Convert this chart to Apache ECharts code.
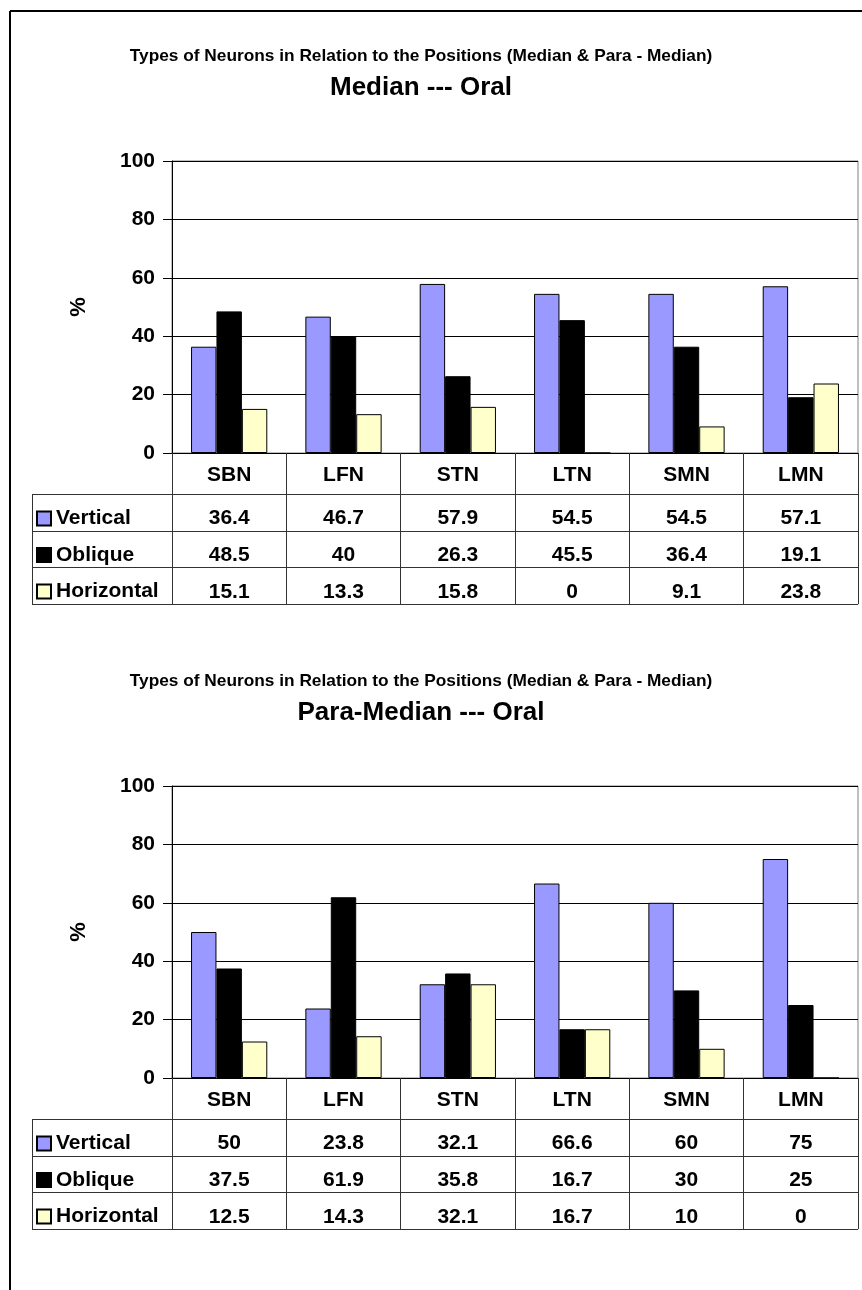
<!DOCTYPE html>
<html>
<head>
<meta charset="utf-8">
<title>Types of Neurons in Relation to the Positions</title>
<script src="https://cdn.jsdelivr.net/npm/echarts@6/dist/echarts.min.js"></script>
<style>
  html, body { margin: 0; padding: 0; background: #fff; }
  #chart { width: 862px; height: 1290px; }
</style>
</head>
<body>
<div id="chart"></div>
<script>
// Neuron categories along the x axis
const categories = ['SBN', 'LFN', 'STN', 'LTN', 'SMN', 'LMN'];
const seriesNames = ['Vertical', 'Oblique', 'Horizontal'];

// Median --- Oral (%)
const medianVertical   = [36.4, 46.7, 57.9, 54.5, 54.5, 57.1];
const medianOblique    = [48.5, 40, 26.3, 45.5, 36.4, 19.1];
const medianHorizontal = [15.1, 13.3, 15.8, 0, 9.1, 23.8];

// Para-Median --- Oral (%)
const paraVertical   = [50, 23.8, 32.1, 66.6, 60, 75];
const paraOblique    = [37.5, 61.9, 35.8, 16.7, 30, 25];
const paraHorizontal = [12.5, 14.3, 32.1, 16.7, 10, 0];

// Value axis range
const yMin = 0, yMax = 100, yStep = 20;

const mainTitle = 'Types of Neurons in Relation to the Positions (Median & Para - Median)';
const panelTitles = ['Median --- Oral', 'Para-Median --- Oral'];
const panelValues = [
  [medianVertical, medianOblique, medianHorizontal],
  [paraVertical, paraOblique, paraHorizontal]
];

const seriesColors = ['#9999FF', '#000000', '#FFFFCC'];
const FONT = "'Liberation Sans', Arial, Helvetica, sans-serif";

// layout of one panel (second panel is shifted down)
const PANEL_SHIFT = 625;
const PLOT_LEFT = 172, PLOT_WIDTH = 686, PLOT_TOP = 161, PLOT_HEIGHT = 292;
const HEADER_H = 41, ROW_H = 36.7;
const TABLE_LEFT = 32;
const TITLE_X = 421;

const option = {
  animation: false,
  backgroundColor: '#ffffff',
  grid: [], xAxis: [], yAxis: [], series: [], legend: [], graphic: []
};

// outer frame (left and top edges)
option.graphic.push(
  { type: 'line', silent: true, shape: { x1: 10, y1: 11, x2: 10, y2: 1290 }, style: { stroke: '#000', lineWidth: 2 } },
  { type: 'line', silent: true, shape: { x1: 10, y1: 11, x2: 862, y2: 11 }, style: { stroke: '#000', lineWidth: 2 } }
);

function textStyle(size) {
  return { fontSize: size, fontWeight: 'bold', color: '#000', fontFamily: FONT };
}

panelValues.forEach((values, k) => {
  const dy = k * PANEL_SHIFT;
  const plotBottom = PLOT_TOP + dy + PLOT_HEIGHT;
  const tableBottom = plotBottom + HEADER_H + ROW_H * 3;

  // titles
  option.graphic.push(
    { type: 'text', silent: true, x: TITLE_X, y: 56 + dy,
      style: { text: mainTitle, font: 'bold 17.3px ' + FONT, fill: '#000',
               align: 'center', verticalAlign: 'middle', textAlign: 'center', textVerticalAlign: 'middle' } },
    { type: 'text', silent: true, x: TITLE_X, y: 88 + dy,
      style: { text: panelTitles[k], font: 'bold 26px ' + FONT, fill: '#000',
               align: 'center', verticalAlign: 'middle', textAlign: 'center', textVerticalAlign: 'middle' } }
  );

  option.grid.push({
    left: PLOT_LEFT, top: PLOT_TOP + dy, width: PLOT_WIDTH, height: PLOT_HEIGHT,
    show: true, borderColor: '#808080', borderWidth: 1
  });

  const axisBase = option.xAxis.length;
  // category axis: header row of the data table; ticks run down as column rules
  option.xAxis.push({
    gridIndex: k, type: 'category', data: categories, position: 'bottom',
    axisLine: { show: true, lineStyle: { color: '#000', width: 1 } },
    axisTick: { show: true, interval: 0, length: tableBottom - plotBottom, lineStyle: { color: '#333', width: 1 } },
    axisLabel: Object.assign({ interval: 0, margin: 22, verticalAlign: 'middle' }, textStyle(21)),
    splitLine: { show: false }
  });
  // one label axis per table row, showing that series' values
  values.forEach((rowVals, r) => {
    option.xAxis.push({
      gridIndex: k, type: 'category', data: categories, position: 'bottom',
      offset: HEADER_H + ROW_H * r + ROW_H / 2 + 6,
      axisLine: { show: false }, axisTick: { show: false }, splitLine: { show: false },
      axisLabel: Object.assign({
        interval: 0, margin: 0, verticalAlign: 'middle',
        formatter: (v, i) => String(rowVals[i])
      }, textStyle(21))
    });
  });

  option.yAxis.push({
    gridIndex: k, type: 'value', min: yMin, max: yMax, interval: yStep,
    name: '%', nameLocation: 'middle', nameRotate: 90, nameGap: 82,
    nameTextStyle: textStyle(22),
    axisLine: { show: true, lineStyle: { color: '#000', width: 1 } },
    axisTick: { show: true, length: 9, lineStyle: { color: '#000' } },
    axisLabel: Object.assign({ margin: 17 }, textStyle(21)),
    splitLine: { show: true, lineStyle: { color: '#000', width: 1 } }
  });

  seriesNames.forEach((name, s) => {
    option.series.push({
      type: 'bar', name: name, xAxisIndex: axisBase, yAxisIndex: k,
      data: values[s], barGap: '0%', barCategoryGap: '33.3%',
      itemStyle: { color: seriesColors[s], borderColor: '#000', borderWidth: 1 },
      emphasis: { disabled: true }
    });
  });

  // row keys of the data table
  option.legend.push({
    orient: 'vertical', left: 36, top: plotBottom + HEADER_H + 14, padding: 0,
    itemGap: 15.5, itemWidth: 14, itemHeight: 14, icon: 'rect',
    selectedMode: false, data: seriesNames, textStyle: textStyle(21)
  });

  // table rules
  const ruleStyle = { stroke: '#333', lineWidth: 1 };
  for (let r = 0; r <= 3; r++) {
    const y = Math.round(plotBottom + HEADER_H + ROW_H * r) + 0.5;
    option.graphic.push({ type: 'line', silent: true,
      shape: { x1: TABLE_LEFT, y1: y, x2: PLOT_LEFT + PLOT_WIDTH, y2: y }, style: ruleStyle });
  }
  option.graphic.push({ type: 'line', silent: true,
    shape: { x1: TABLE_LEFT + 0.5, y1: plotBottom + HEADER_H, x2: TABLE_LEFT + 0.5, y2: Math.round(tableBottom) + 0.5 },
    style: ruleStyle });
});

const chart = echarts.init(document.getElementById('chart'), null, { renderer: 'canvas' });
chart.setOption(option);
</script>
</body>
</html>
